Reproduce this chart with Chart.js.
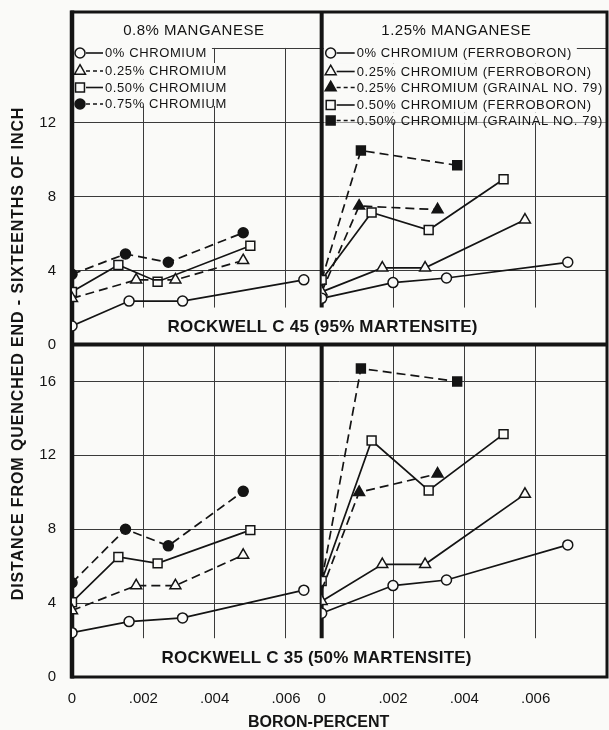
<!DOCTYPE html>
<html>
<head>
<meta charset="utf-8">
<script src="https://cdn.jsdelivr.net/npm/chart.js@4.4.1/dist/chart.umd.min.js"></script>
<style>
  html, body { margin: 0; padding: 0; background: #fafaf8; }
  #wrap { position: relative; width: 609px; height: 730px; }
</style>
</head>
<body>
<div id="wrap"><canvas id="boronChart" width="609" height="730"></canvas></div>
<script>
// tick labels
const boronTicks = [0, 0.002, 0.004, 0.006];
const distanceTicks = [0, 4, 8, 12, 16];

// 0.8% manganese heats: boron (percent) and distance from quenched end
// (sixteenths of an inch) to Rockwell C 45 and C 35
const lowMnCr0Boron = [0, 0.0016, 0.0031, 0.0065];
const lowMnCr0C45 = [1.0, 2.35, 2.35, 3.5];
const lowMnCr0C35 = [2.4, 3.0, 3.2, 4.7];

const lowMnCr25Boron = [0, 0.0018, 0.0029, 0.0048];
const lowMnCr25C45 = [2.5, 3.5, 3.5, 4.55];
const lowMnCr25C35 = [3.6, 4.95, 4.95, 6.6];

const lowMnCr50Boron = [0, 0.0013, 0.0024, 0.0050];
const lowMnCr50C45 = [2.85, 4.3, 3.4, 5.35];
const lowMnCr50C35 = [4.05, 6.5, 6.15, 7.95];

const lowMnCr75Boron = [0, 0.0015, 0.0027, 0.0048];
const lowMnCr75C45 = [3.8, 4.9, 4.45, 6.05];
const lowMnCr75C35 = [5.1, 8.0, 7.1, 10.05];

// 1.25% manganese heats
const highMnCr0FBoron = [0, 0.0020, 0.0035, 0.0069];
const highMnCr0FC45 = [2.5, 3.35, 3.6, 4.45];
const highMnCr0FC35 = [3.45, 4.95, 5.25, 7.15];

const highMnCr25FBoron = [0, 0.0017, 0.0029, 0.0057];
const highMnCr25FC45 = [2.85, 4.15, 4.15, 6.75];
const highMnCr25FC35 = [4.1, 6.1, 6.1, 9.9];

const highMnCr25GBoron = [0, 0.00105, 0.00325];
const highMnCr25GC45 = [2.85, 7.5, 7.3];
const highMnCr25GC35 = [4.7, 10.0, 11.0];

const highMnCr50FBoron = [0, 0.0014, 0.0030, 0.0051];
const highMnCr50FC45 = [3.5, 7.15, 6.2, 8.95];
const highMnCr50FC35 = [5.2, 12.8, 10.1, 13.15];

const highMnCr50GBoron = [0, 0.0011, 0.0038];
const highMnCr50GC45 = [3.5, 10.5, 9.7];
const highMnCr50GC35 = [5.2, 16.7, 16.0];

const lowMnNames = ['0% CHROMIUM', '0.25% CHROMIUM', '0.50% CHROMIUM', '0.75% CHROMIUM'];
const highMnNames = ['0% CHROMIUM (FERROBORON)', '0.25% CHROMIUM (FERROBORON)',
  '0.25% CHROMIUM (GRAINAL NO. 79)', '0.50% CHROMIUM (FERROBORON)', '0.50% CHROMIUM (GRAINAL NO. 79)'];

const ink = '#141414';
const paper = '#fafaf8';
const face = '"Liberation Sans", Arial, sans-serif';

// marker looks, in legend order
const openCircle = { shape: 'circle', filled: false, dashed: false, r: 5 };
const openTriDash = { shape: 'triangle', filled: false, dashed: true, r: 6.3 };
const openTri = { shape: 'triangle', filled: false, dashed: false, r: 6.3 };
const fullTriDash = { shape: 'triangle', filled: true, dashed: true, r: 6.3 };
const openSquare = { shape: 'rect', filled: false, dashed: false, r: 6.3 };
const fullSquareDash = { shape: 'rect', filled: true, dashed: true, r: 6.3 };
const fullCircleDash = { shape: 'circle', filled: true, dashed: true, r: 5 };

const lowMnLooks = [openCircle, openTriDash, openSquare, fullCircleDash];
const highMnLooks = [openCircle, openTri, fullTriDash, openSquare, fullSquareDash];

function series(label, boron, distance, xAxisID, yAxisID, look, hideFirst) {
  return {
    label: label,
    xAxisID: xAxisID,
    yAxisID: yAxisID,
    data: boron.map((b, i) => ({ x: b, y: distance[i] })),
    borderColor: ink,
    borderWidth: 1.7,
    borderDash: look.dashed ? [9, 5] : [],
    pointStyle: look.shape,
    pointRadius: boron.map((b, i) => (hideFirst && i === 0 ? 0 : look.r)),
    pointBackgroundColor: look.filled ? ink : paper,
    pointBorderColor: ink,
    pointBorderWidth: 1.5,
    tension: 0,
    fill: false
  };
}

const datasets = [
  series('0% Cr C45', lowMnCr0Boron, lowMnCr0C45, 'xL', 'yT', openCircle),
  series('0.25% Cr C45', lowMnCr25Boron, lowMnCr25C45, 'xL', 'yT', openTriDash),
  series('0.50% Cr C45', lowMnCr50Boron, lowMnCr50C45, 'xL', 'yT', openSquare),
  series('0.75% Cr C45', lowMnCr75Boron, lowMnCr75C45, 'xL', 'yT', fullCircleDash),
  series('0% Cr C35', lowMnCr0Boron, lowMnCr0C35, 'xL', 'yB', openCircle),
  series('0.25% Cr C35', lowMnCr25Boron, lowMnCr25C35, 'xL', 'yB', openTriDash),
  series('0.50% Cr C35', lowMnCr50Boron, lowMnCr50C35, 'xL', 'yB', openSquare),
  series('0.75% Cr C35', lowMnCr75Boron, lowMnCr75C35, 'xL', 'yB', fullCircleDash),

  series('0% Cr F C45', highMnCr0FBoron, highMnCr0FC45, 'xR', 'yT', openCircle),
  series('0.25% Cr F C45', highMnCr25FBoron, highMnCr25FC45, 'xR', 'yT', openTri),
  series('0.25% Cr G C45', highMnCr25GBoron, highMnCr25GC45, 'xR', 'yT', fullTriDash, true),
  series('0.50% Cr F C45', highMnCr50FBoron, highMnCr50FC45, 'xR', 'yT', openSquare),
  series('0.50% Cr G C45', highMnCr50GBoron, highMnCr50GC45, 'xR', 'yT', fullSquareDash, true),
  series('0% Cr F C35', highMnCr0FBoron, highMnCr0FC35, 'xR', 'yB', openCircle),
  series('0.25% Cr F C35', highMnCr25FBoron, highMnCr25FC35, 'xR', 'yB', openTri),
  series('0.25% Cr G C35', highMnCr25GBoron, highMnCr25GC35, 'xR', 'yB', fullTriDash, true),
  series('0.50% Cr F C35', highMnCr50FBoron, highMnCr50FC35, 'xR', 'yB', openSquare),
  series('0.50% Cr G C35', highMnCr50GBoron, highMnCr50GC35, 'xR', 'yB', fullSquareDash, true)
];

function hideZero(ctx) {
  return ctx.tick && ctx.tick.value === 0 ? 'rgba(0,0,0,0)' : '#3a3a3a';
}

function boronAxis(max, weight) {
  return {
    type: 'linear',
    position: 'bottom',
    stack: 'boron',
    stackWeight: max * 1000,
    weight: weight,
    min: 0,
    max: max,
    afterBuildTicks: (scale) => { scale.ticks = boronTicks.map(v => ({ value: v })); },
    afterFit: (scale) => {
      scale.height = 53;
      scale.paddingLeft = 0;
      scale.paddingRight = 0;
    },
    grid: { drawTicks: false, color: hideZero, lineWidth: 1 },
    border: { display: false },
    ticks: {
      padding: 13,
      autoSkip: false,
      maxRotation: 0,
      color: ink,
      font: { size: 15 },
      callback: (v) => (v === 0 ? '0' : v.toFixed(3).replace(/^0/, ''))
    }
  };
}

function distanceAxis(weight, labelTop) {
  return {
    type: 'linear',
    position: 'left',
    stack: 'distance',
    stackWeight: 1,
    weight: weight,
    min: 0,
    max: 18,
    afterBuildTicks: (scale) => { scale.ticks = distanceTicks.map(v => ({ value: v })); },
    afterFit: (scale) => {
      scale.width = 72;
      scale.paddingTop = 0;
      scale.paddingBottom = 0;
    },
    grid: { drawTicks: false, color: hideZero, lineWidth: 1 },
    border: { display: false },
    ticks: {
      padding: 16,
      autoSkip: false,
      color: ink,
      font: { size: 15 },
      callback: (v) => (v === 16 && !labelTop ? '' : String(v))
    }
  };
}

function drawKey(ctx, left, rows, names, looks, markerDx, lineFrom, lineTo, textDx) {
  ctx.font = '13px ' + face;
  ctx.letterSpacing = '0.6px';
  // clear a strip behind each row so the grid stops at the text
  names.forEach((name, i) => {
    const y = rows[i];
    const w = ctx.measureText(name).width;
    const next = i < names.length - 1 ? rows[i + 1] : y + 10;
    ctx.fillStyle = paper;
    ctx.fillRect(left, y - 8, textDx + w + 5, next - y);
  });
  names.forEach((name, i) => {
    const y = rows[i];
    const look = looks[i];
    ctx.strokeStyle = ink;
    ctx.lineWidth = 1.6;
    ctx.setLineDash(look.dashed ? [4, 3] : []);
    ctx.beginPath();
    ctx.moveTo(left + lineFrom, y);
    ctx.lineTo(left + lineTo, y);
    ctx.stroke();
    ctx.setLineDash([]);
    ctx.fillStyle = look.filled ? ink : paper;
    ctx.lineWidth = 1.5;
    Chart.helpers.drawPoint(ctx, { pointStyle: look.shape, radius: look.r, borderWidth: 1.5, rotation: 0 },
      left + markerDx, y);
    ctx.fillStyle = ink;
    ctx.textAlign = 'left';
    ctx.textBaseline = 'middle';
    ctx.fillText(name, left + textDx, y + 0.5);
  });
  ctx.letterSpacing = '0px';
}

const panelFrame = {
  id: 'panelFrame',
  beforeDatasetsDraw(chart) {
    const { ctx, chartArea: area, scales } = chart;
    const { xL, xR, yT, yB } = scales;
    const mid = xR.left;
    ctx.save();

    // blank strips: titles above the 16 line, captions along each bottom
    ctx.fillStyle = paper;
    const y16 = yT.getPixelForValue(16);
    ctx.fillRect(area.left, area.top, area.width, y16 - area.top - 1);
    const capTop = yT.getPixelForValue(2.0);
    const capBot = yB.getPixelForValue(2.1);
    ctx.fillRect(area.left, capTop, area.width, yT.bottom - capTop);
    ctx.fillRect(area.left, capBot, area.width, yB.bottom - capBot);

    // legends
    const t = area.top;
    drawKey(ctx, area.left + 2, [t + 41, t + 59, t + 75.5, t + 92], lowMnNames, lowMnLooks, 6, 12, 29, 31);
    drawKey(ctx, mid + 2, [t + 41, t + 59.5, t + 75.5, t + 93, t + 108.5], highMnNames, highMnLooks, 7, 13, 31, 33);

    // frame and dividers
    ctx.strokeStyle = ink;
    ctx.lineCap = 'butt';
    ctx.lineWidth = 4;
    ctx.beginPath();
    ctx.moveTo(mid, area.top);
    ctx.lineTo(mid, capTop);
    ctx.moveTo(mid, yB.top);
    ctx.lineTo(mid, capBot);
    ctx.stroke();
    ctx.beginPath();
    ctx.moveTo(area.left, yT.bottom);
    ctx.lineTo(area.right, yT.bottom);
    ctx.stroke();
    ctx.lineWidth = 3;
    ctx.strokeRect(area.left, area.top, area.width, area.height);
    ctx.lineWidth = 4.5;
    ctx.beginPath();
    ctx.moveTo(area.left, area.top - 1.5);
    ctx.lineTo(area.left, area.bottom + 1.5);
    ctx.stroke();

    // panel titles
    ctx.fillStyle = ink;
    ctx.textBaseline = 'middle';
    ctx.textAlign = 'center';
    ctx.font = '15px ' + face;
    ctx.letterSpacing = '0.5px';
    ctx.fillText('0.8% MANGANESE', (xL.left + xL.right) / 2 - 3, area.top + 19);
    ctx.fillText('1.25% MANGANESE', (xR.left + xR.right) / 2 - 8, area.top + 19);

    // hardness captions
    ctx.font = 'bold 17px ' + face;
    ctx.letterSpacing = '0.2px';
    ctx.fillText('ROCKWELL C 45 (95% MARTENSITE)', mid + 1, yT.bottom - 17);
    ctx.fillText('ROCKWELL C 35 (50% MARTENSITE)', mid - 5, yB.bottom - 19);

    // axis titles
    ctx.font = 'bold 16px ' + face;
    ctx.letterSpacing = '0px';
    ctx.fillText('BORON-PERCENT', mid - 3, 723);
    ctx.save();
    ctx.translate(19, (area.top + area.bottom) / 2 + 9);
    ctx.rotate(-Math.PI / 2);
    ctx.letterSpacing = '0.9px';
    ctx.fillText('DISTANCE FROM QUENCHED END - SIXTEENTHS OF INCH', 0, 0);
    ctx.restore();

    ctx.restore();
  }
};

Chart.defaults.font.family = face;
Chart.defaults.color = ink;

new Chart(document.getElementById('boronChart').getContext('2d'), {
  type: 'line',
  data: { datasets: datasets },
  options: {
    responsive: false,
    animation: false,
    parsing: true,
    layout: { autoPadding: false, padding: { top: 12, right: 2, left: 0, bottom: 0 } },
    plugins: { legend: { display: false }, tooltip: { enabled: false } },
    scales: {
      xL: boronAxis(0.007, 1),
      xR: boronAxis(0.008, 2),
      yT: distanceAxis(2, false),
      yB: distanceAxis(1, true)
    }
  },
  plugins: [panelFrame]
});
</script>
</body>
</html>
